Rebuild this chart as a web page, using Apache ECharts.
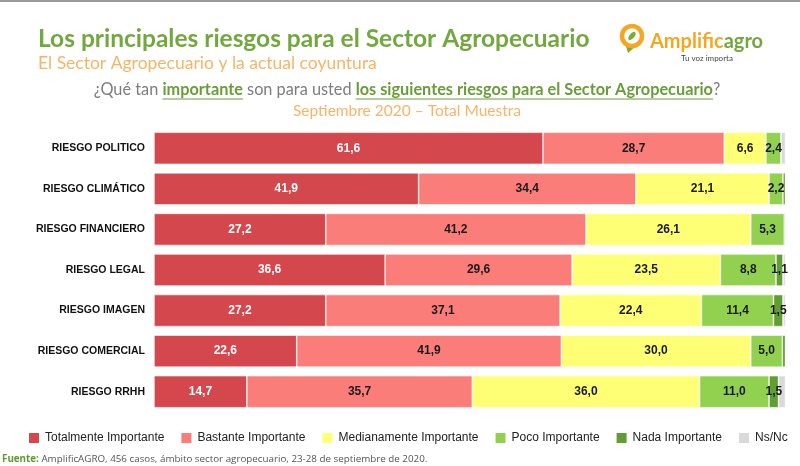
<!DOCTYPE html>
<html><head><meta charset="utf-8">
<script src="https://cdn.jsdelivr.net/npm/echarts@6/dist/echarts.min.js"></script>
<style>html,body{margin:0;padding:0;background:#fff}#c{width:800px;height:466px}</style>
</head><body><div id="c"></div>
<script>
const categories = ['RIESGO POLITICO','RIESGO CLIMÁTICO','RIESGO FINANCIERO','RIESGO LEGAL','RIESGO IMAGEN','RIESGO COMERCIAL','RIESGO RRHH'];
const seriesNames = ['Totalmente Importante','Bastante Importante','Medianamente Importante','Poco Importante','Nada Importante','Ns/Nc'];
const totalmente   = [61.6, 41.9, 27.2, 36.6, 27.2, 22.6, 14.7];
const bastante     = [28.7, 34.4, 41.2, 29.6, 37.1, 41.9, 35.7];
const medianamente = [6.6, 21.1, 26.1, 23.5, 22.4, 30.0, 36.0];
const poco         = [2.4, 2.2, 5.3, 8.8, 11.4, 5.0, 11.0];
const nada         = [0.0, 0.4, 0.2, 1.1, 1.5, 0.5, 1.5];
const nsnc         = [0.7, 0.0, 0.0, 0.4, 0.4, 0.0, 1.1];
const colors = ['#d4474c','#fa7d7a','#ffff75','#92d050','#619c34','#d9d9d9'];

const chart = echarts.init(document.getElementById('c'), null, {renderer:'canvas'});
const ctx = document.createElement('canvas').getContext('2d');
function tw(text, font){ ctx.font = font; return ctx.measureText(text).width; }

const fmt = v => v.toFixed(1).replace('.', ',');
const allData = [totalmente, bastante, medianamente, poco, nada, nsnc];
const series = allData.map((d, i) => ({
  name: seriesNames[i], type: 'bar', stack: 'total', data: d, barWidth: 32,
  itemStyle: { color: colors[i], borderColor: '#ffffff', borderWidth: 0.6 },
  label: {
    show: i < 5, position: 'inside', fontFamily: 'Arial, Liberation Sans', fontWeight: 'bold', fontSize: 12,
    color: i === 0 ? '#ffffff' : '#1a1a1a',
    formatter: p => p.value >= 1 ? fmt(p.value) : ''
  },
  emphasis: { disabled: true }
}));

// Question line built from measured pieces
const qFontN = '16.3px Lato';
const qFontB = 'bold 16.3px Lato';
const qParts = [
  ['¿Qué tan ', false], ['importante', true], [' son para usted ', false],
  ['los siguientes riesgos para el Sector Agropecuario', true], ['?', false]
];
let qTotal = 0; qParts.forEach(p => qTotal += tw(p[0], p[1] ? qFontB : qFontN));
let qx = 407 - qTotal / 2; const qy = 90;
const qGraphics = [];
qParts.forEach(p => {
  const f = p[1] ? qFontB : qFontN; const w = tw(p[0], f);
  qGraphics.push({ type: 'text', x: qx, y: qy, style: { text: p[0], font: f, fill: p[1] ? '#6a9c3a' : '#7d7d7d', textVerticalAlign: 'middle' } });
  if (p[1]) qGraphics.push({ type: 'line', shape: { x1: qx, y1: qy + 9, x2: qx + w, y2: qy + 9 }, style: { stroke: '#6a9c3a', lineWidth: 1.2 } });
  qx += w;
});

// Logo pieces
const lf = 'bold 20px Lato';
const wA = tw('Amplific', lf);

chart.setOption({
  animation: false,
  title: {
    text: 'Los principales riesgos para el Sector Agropecuario',
    subtext: 'El Sector Agropecuario y la actual coyuntura',
    left: 33, top: 22, itemGap: 2,
    textStyle: { fontFamily: 'Lato', fontWeight: 'bold', fontSize: 24.5, color: '#73a83f' },
    subtextStyle: { fontFamily: 'Lato', fontSize: 17.5, color: '#f6b566' }
  },
  legend: {
    data: seriesNames, left: 22, top: 426, icon: 'rect', itemWidth: 12, itemHeight: 12, itemGap: 15,
    textStyle: { fontFamily: 'Arial, Liberation Sans', fontSize: 12, color: '#222' }
  },
  grid: { left: 154, right: 14.5, top: 128, bottom: 54 },
  xAxis: { type: 'value', min: 0, max: 100, show: false },
  yAxis: {
    type: 'category', data: categories, inverse: true,
    axisLine: { show: false }, axisTick: { show: false },
    axisLabel: { fontFamily: 'Arial, Liberation Sans', fontWeight: 'bold', fontSize: 10.5, color: '#111', margin: 9 }
  },
  series: series,
  graphic: [
    { type: 'rect', shape: { x: 0, y: 0, width: 800, height: 2 }, style: { fill: '#9a9a9a' } },
    ...qGraphics,
    { type: 'text', x: 407, y: 111, style: { text: 'Septiembre 2020 – Total Muestra', font: '15.5px Lato', fill: '#f6b566', textAlign: 'center', textVerticalAlign: 'middle' } },
    // logo
    { type: 'polygon', shape: { points: [[625, 43], [628, 53], [636, 46]] }, style: { fill: '#79b02f' } },
    { type: 'circle', shape: { cx: 632, cy: 36, r: 10 }, style: { fill: 'none', stroke: '#f5a623', lineWidth: 4.5 } },
    { type: 'ellipse', shape: { cx: 632, cy: 36, rx: 2.5, ry: 5 }, rotation: -0.7, originX: 632, originY: 36, style: { fill: '#79b02f' } },
    { type: 'text', x: 650, y: 42, style: { text: 'Amplific', font: lf, fill: '#f5a623', textVerticalAlign: 'middle' } },
    { type: 'text', x: 650 + wA, y: 42, style: { text: 'agro', font: lf, fill: '#73a83f', textVerticalAlign: 'middle' } },
    { type: 'text', x: 707, y: 58, style: { text: 'Tu voz importa', font: '8px Lato', fill: '#444', textAlign: 'center', textVerticalAlign: 'middle' } },
    // footer
    { type: 'text', x: 2, y: 459, style: { text: '{b|Fuente:} AmplificAGRO, 456 casos, ámbito sector agropecuario, 23-28 de septiembre de 2020.',
      font: '9.8px "Open Sans"', fill: '#555', textVerticalAlign: 'middle',
      rich: { b: { fontWeight: 'bold', fill: '#5f9a2e', fontSize: 9.8, fontFamily: 'Open Sans' } } } }
  ]
});
</script></body></html>
